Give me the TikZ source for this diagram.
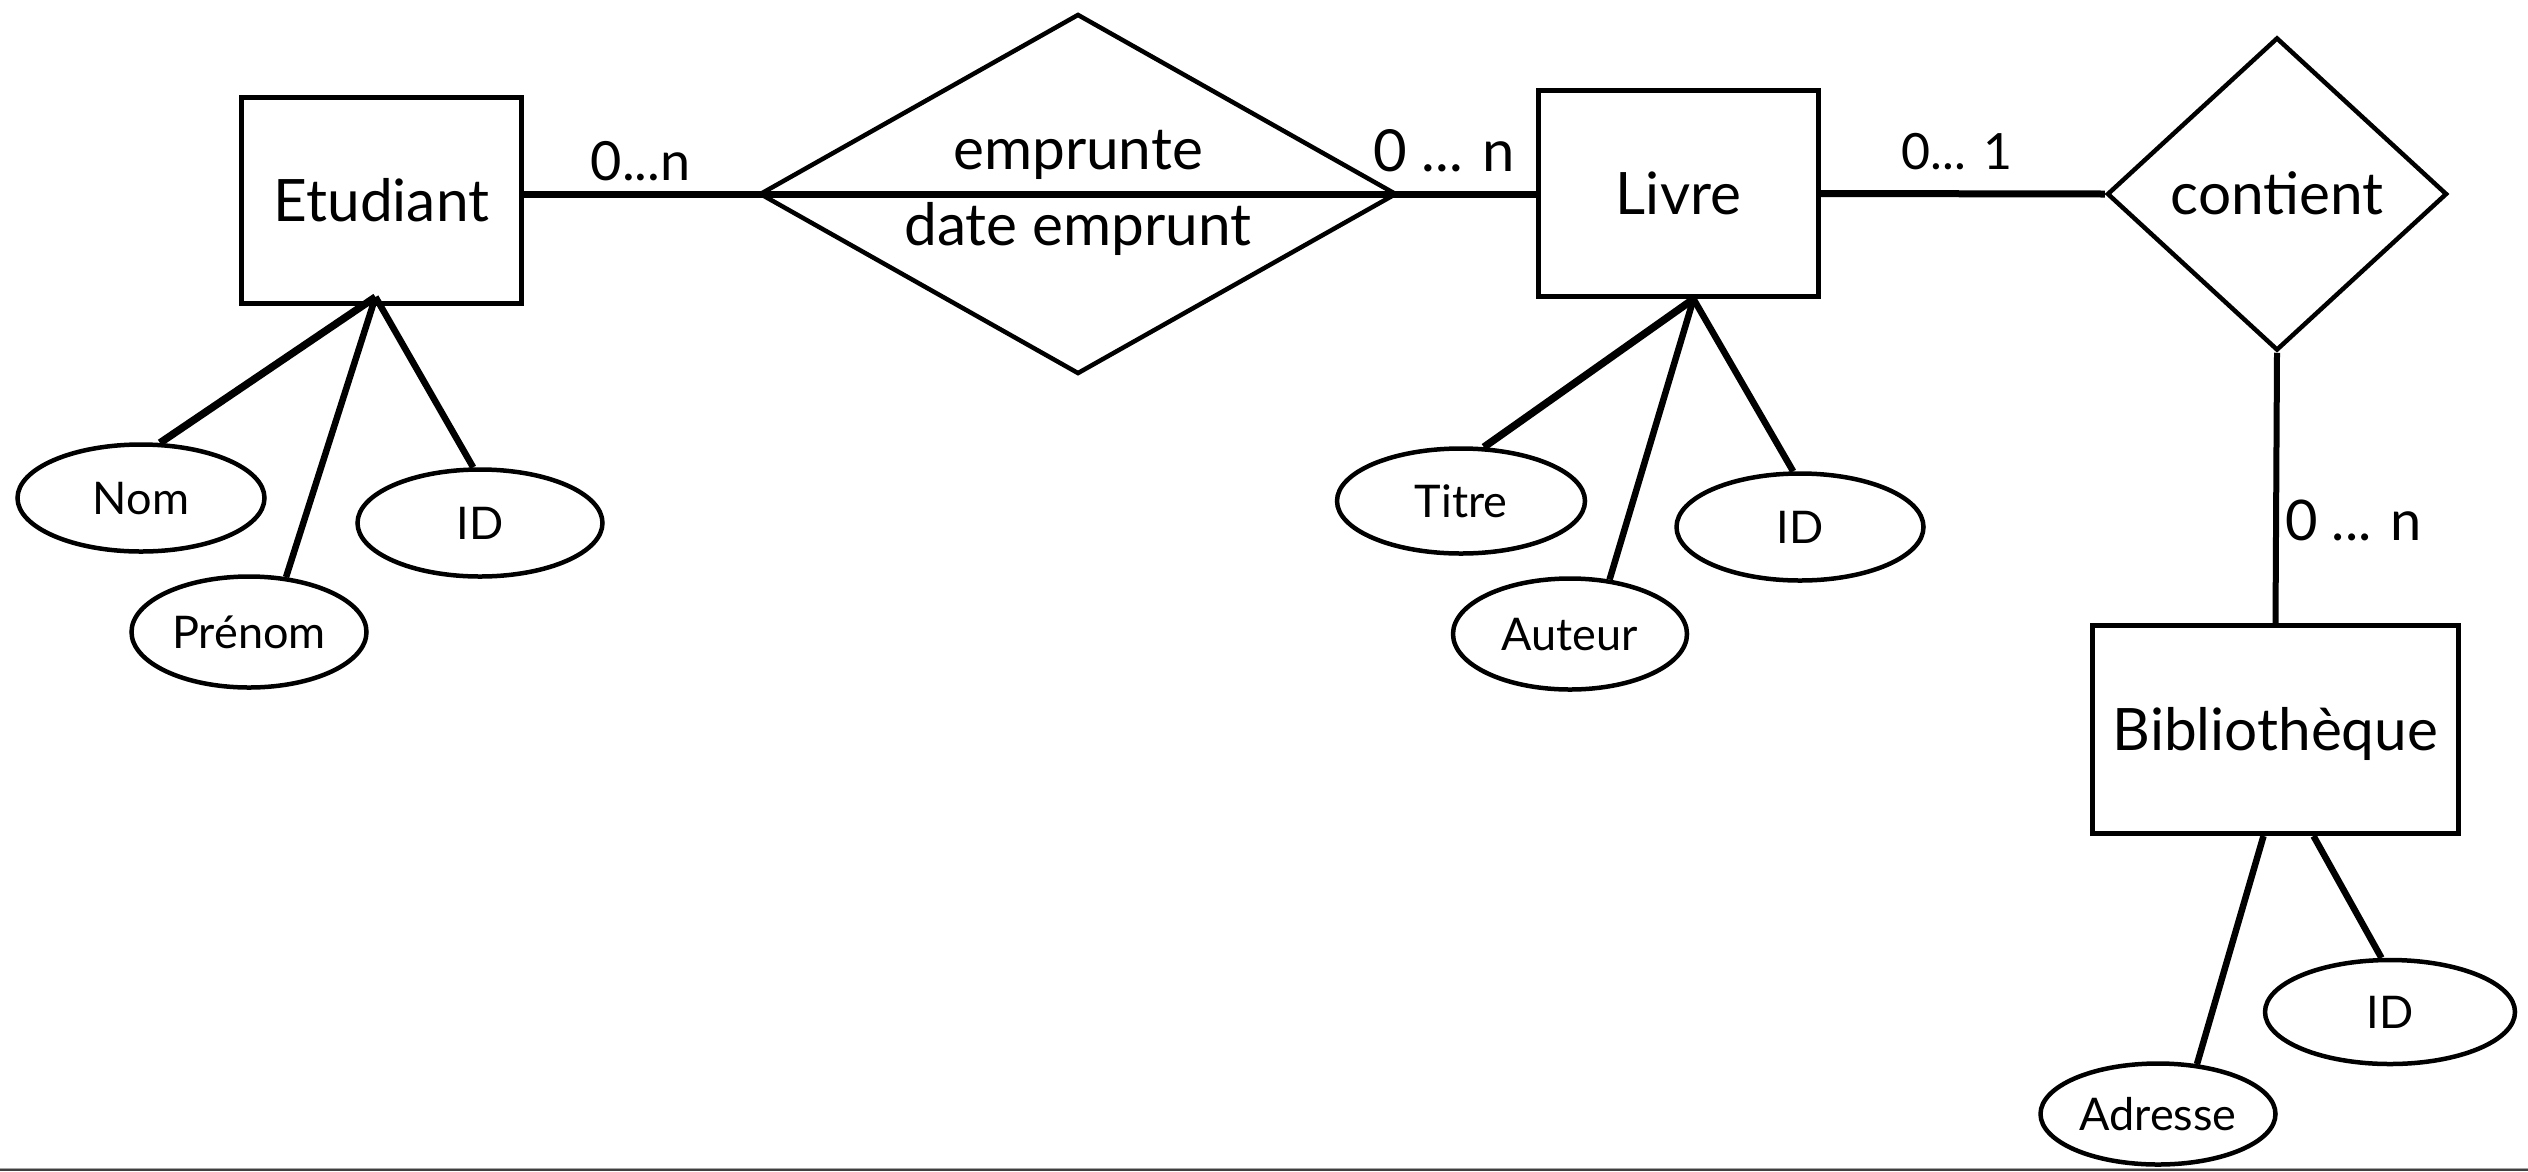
\documentclass[tikz,border=0pt]{standalone}
\usepackage{fontspec}
\setmainfont{Lato}
\usetikzlibrary{shapes.geometric,calc}
\begin{document}
\begin{tikzpicture}[x=1pt,y=-1pt,
  entity/.style={draw, line width=5pt, rectangle, inner sep=0pt,
    font=\fontsize{58.5}{62}\selectfont, text height=41pt, text depth=0pt},
  rel/.style={draw, line width=4.5pt, diamond, inner sep=0pt},
  reltext/.style={inner sep=0pt, font=\fontsize{58.5}{62}\selectfont},
  attr/.style={draw, line width=4.5pt, ellipse, inner sep=0pt,
    font=\fontsize{45}{48}\selectfont, text height=32pt, text depth=0pt},
  link/.style={line width=7pt},
  attrlink/.style={line width=6.5pt},
  card/.style={inner sep=0pt, anchor=base}]
\useasboundingbox (0,0) rectangle (2528,1171);

% entities
\node[entity, minimum width=280pt, minimum height=206pt] (etud) at (381.5,200.5) {Etudiant};
\node[entity, minimum width=280pt, minimum height=206pt] (livre) at (1678.5,193.5) {Livre};
\node[entity, minimum width=366pt, minimum height=208pt] (biblio) at (2275.5,729.5) {Bibliothèque};

% relations
\node[rel, minimum width=637pt, minimum height=360pt] (emprunte) at (1078,194) {};
\node[reltext, anchor=base] (emprunteT) at ($(emprunte)+(0,-25)$) {emprunte};
\node[reltext, anchor=base] (dateT) at ($(emprunte)+(0,51)$) {date emprunt};
\node[rel, minimum width=340pt, minimum height=313pt, font=\fontsize{58.5}{62}\selectfont,
  text height=41pt, text depth=0pt] (contient) at (2277,194) {contient};

% attributes
\node[attr, minimum width=247pt, minimum height=107pt] (nom) at (141,498) {Nom};
\node[attr, minimum width=235pt, minimum height=111pt] (prenom) at (249,632) {Prénom};
\node[attr, minimum width=245pt, minimum height=107pt] (idE) at (480,523) {ID};
\node[attr, minimum width=248pt, minimum height=105pt] (titre) at (1461,501) {Titre};
\node[attr, minimum width=247pt, minimum height=107pt] (idL) at (1800,527) {ID};
\node[attr, minimum width=234pt, minimum height=111pt] (auteur) at (1570,634) {Auteur};
\node[attr, minimum width=250pt, minimum height=104pt] (idB) at (2390,1012) {ID};
\node[attr, minimum width=235pt, minimum height=101pt] (adresse) at (2158,1114) {Adresse};

% hubs
\coordinate (etudHub) at ($(etud.south)+(-6,-9)$);
\coordinate (livreHub) at ($(livre.south)+(15,0)$);
\coordinate (bibA) at ($(biblio.south)+(-12,0)$);
\coordinate (bibB) at ($(biblio.south)+(38,0)$);

% relation connectors
\draw[link] (emprunte.west -| etud.east) -- node[card, pos=0.5, yshift=14pt,
  font=\fontsize{54}{58}\selectfont] (cEtud) {0...n} (emprunte.west);
\draw[link] (emprunte.west) -- (emprunte.east);
\draw[link] (emprunte.east) -- node[card, pos=0.33, yshift=23pt,
  font=\fontsize{58}{62}\selectfont] (cLivre) {0 ... n} (emprunte.east -| livre.west);
\draw[link] (livre.east) -- node[card, pos=0.48, yshift=24pt,
  font=\fontsize{50}{54}\selectfont] (cCont) {0... 1} (contient.west);
\draw[line width=6pt] (contient.south) -- node[card, anchor=base west, pos=0.62,
  xshift=6pt, yshift=-20pt, font=\fontsize{56}{60}\selectfont] (cBib) {0 ... n} (biblio.north);

% attribute connectors
\draw[attrlink, line width=7.5pt] (etudHub) -- (nom.71);
\draw[attrlink] (etudHub) -- (prenom.56);
\draw[attrlink] (etudHub) -- (idE.97);
\draw[attrlink, line width=7.5pt] (livreHub) -- (titre.67);
\draw[attrlink] (livreHub) -- (auteur.54);
\draw[attrlink] (livreHub) -- (idL.97);
\draw[attrlink] (bibA) -- (adresse.52);
\draw[attrlink] (bibB) -- (idB.99);

% bottom frame edge
\fill[black!35] (0,1167.5) rectangle (2528,1169);
\fill[black!75] (0,1169) rectangle (2528,1171);
\end{tikzpicture}
\end{document}
